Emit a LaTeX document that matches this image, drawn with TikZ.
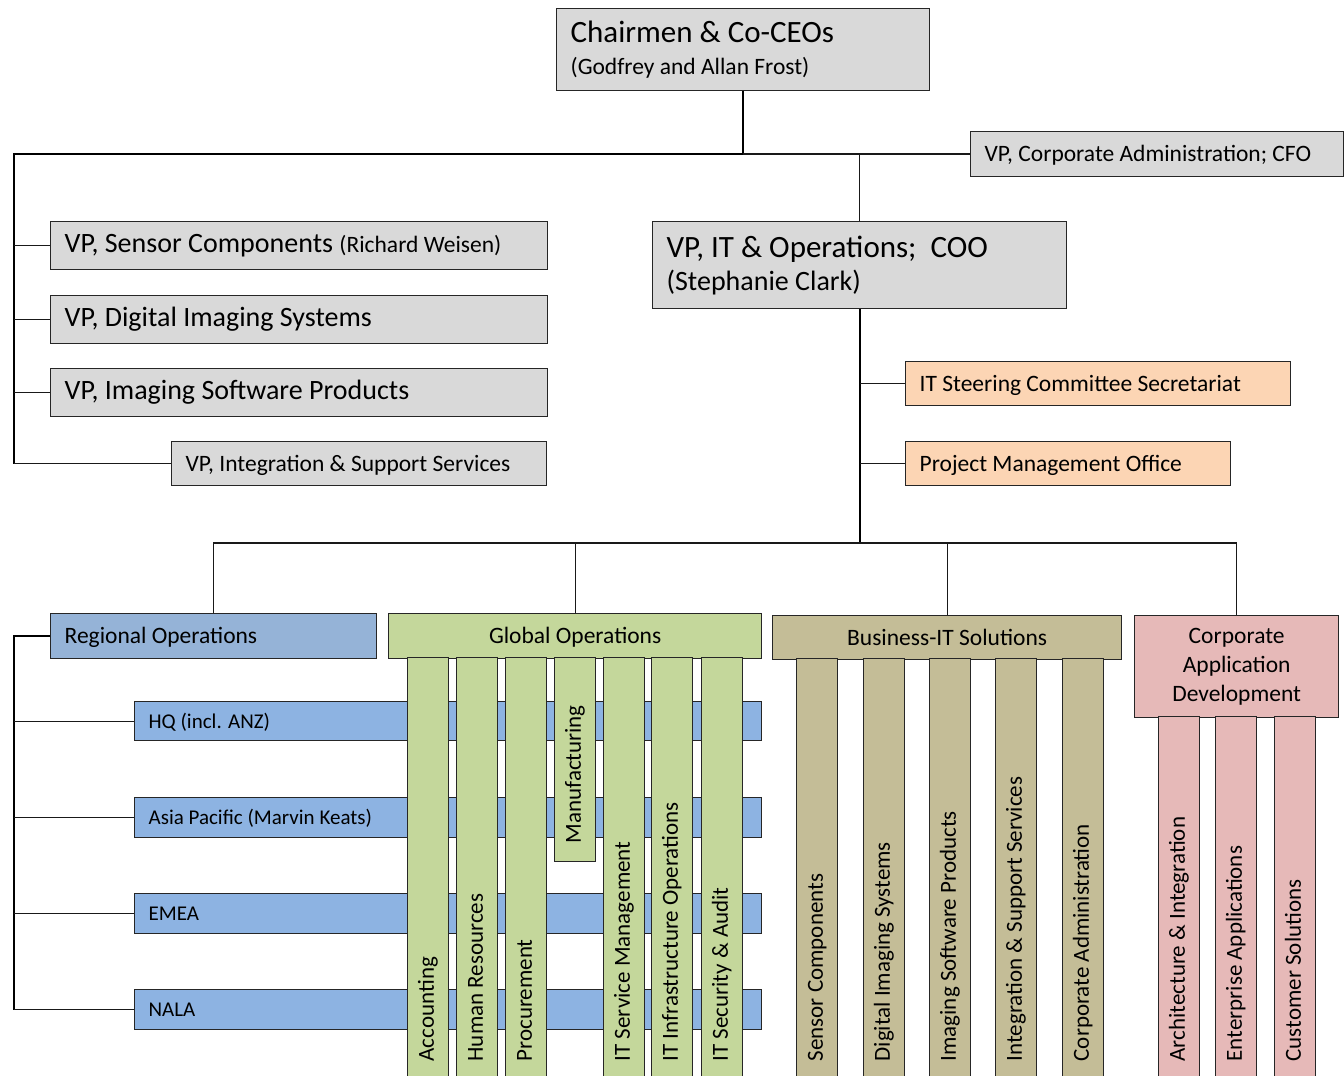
\documentclass[tikz,border=0pt]{standalone}
\usepackage{fontspec}
\setmainfont{Carlito}
\usetikzlibrary{calc}
\newcommand{\fbig}{\fontsize{31}{33}\selectfont}
\newcommand{\fvp}{\fontsize{28}{32}\selectfont}
\newcommand{\fsub}{\fontsize{23.5}{32}\selectfont}
\newcommand{\fmid}{\fontsize{23.5}{29}\selectfont}
\newcommand{\fcol}{\fontsize{23}{29}\selectfont}
\newcommand{\frow}{\fontsize{21}{26}\selectfont}
\newcommand{\ostrut}{\rule[-0.16em]{0pt}{0.98em}}
\definecolor{boxgray}{HTML}{D9D9D9}
\definecolor{peach}{HTML}{FCD5B4}
\definecolor{reghead}{HTML}{95B3D7}
\definecolor{regrow}{HTML}{8DB3E2}
\definecolor{olive}{HTML}{C4D79B}
\definecolor{tan}{HTML}{C4BD97}
\definecolor{rose}{HTML}{E6B9B8}
\tikzset{
    orgbox/.append style={rectangle,draw=black!85,line width=1.3pt,anchor=north west,inner xsep=14pt,inner ysep=0pt,align=flush left},
    graybox/.append style={orgbox,fill=boxgray},
    peachbox/.append style={orgbox,fill=peach,font=\fmid\ostrut},
    headbox/.append style={orgbox,align=flush center},
    rowbox/.append style={orgbox,fill=regrow,font=\frow\ostrut},
    column/.append style={orgbox,rotate=90,inner xsep=18pt,minimum height=41pt,font=\fcol\strut},
    trunk/.append style={line width=2pt,draw=black},
    twig/.append style={line width=1.2pt,draw=black!90},
}

\begin{document}
\begin{tikzpicture}[x=1pt,y=-1pt]
    \useasboundingbox (0,0) rectangle (1344,1076);

    % top of the chart
    \node[graybox,text width=345pt,minimum height=82pt,font=\fsub] (chair) at (556,8)
        {{\fbig Chairmen \& Co-CEOs}\\(Godfrey and Allan Frost)};
    \node[graybox,text width=345pt,minimum height=45pt,font=\fmid\ostrut] (cfo) at (970,131)
        {VP, Corporate Administration; CFO};

    \node[graybox,text width=469pt,minimum height=48pt,font=\fvp\strut] (vpsc) at (50,221)
        {VP, Sensor Components {\fsub (Richard Weisen)}};
    \node[graybox,text width=469pt,minimum height=48pt,font=\fvp\strut] (vpdis) at (50,295)
        {VP, Digital Imaging Systems};
    \node[graybox,text width=469pt,minimum height=48pt,font=\fvp\strut] (vpisp) at (50,368)
        {VP, Imaging Software Products};
    \node[graybox,text width=347pt,minimum height=44pt,font=\fmid\ostrut] (vpiss) at (171,441)
        {VP, Integration \& Support Services};

    \node[graybox,text width=386pt,minimum height=87pt,font=\fontsize{28}{33}\selectfont] (coo) at (652,221)
        {{\fbig VP, IT \& Operations;\ \ COO}\\(Stephanie Clark)};
    \node[peachbox,text width=357pt,minimum height=44pt] (its) at (905,361)
        {IT Steering Committee Secretariat};
    \node[peachbox,text width=297pt,minimum height=44pt] (pmo) at (905,441)
        {Project Management Office};

    \coordinate (jtop) at (chair.south |- 0,154);
    \coordinate (jleft) at (14,154);
    \coordinate (jend) at (vpiss.west -| jleft);
    \draw[trunk] (chair.south) -- (jtop) -- (jleft) -- (jend);
    \draw[twig] (jend) -- (vpiss.west);
    \draw[twig] (jleft |- vpsc.west) -- (vpsc.west);
    \draw[twig] (jleft |- vpdis.west) -- (vpdis.west);
    \draw[twig] (jleft |- vpisp.west) -- (vpisp.west);
    \draw[twig] (jtop) -- (cfo.west |- jtop);
    \draw[twig] (coo.north |- jtop) -- (coo.north);

    % IT and operations
    \node[orgbox,fill=reghead,text width=298pt,minimum height=45pt,font=\fmid\ostrut] (reg) at (50,613)
        {Regional Operations};
    \node[headbox,fill=olive,text width=345pt,minimum height=45pt,font=\fmid\ostrut] (glob) at (388,613)
        {Global Operations};
    \node[headbox,fill=tan,text width=321pt,minimum height=44pt,font=\fmid\ostrut] (bits) at (772,615)
        {Business-IT Solutions};
    \node[headbox,fill=rose,text width=176pt,minimum height=102pt,font=\fmid] (cad) at (1134,615)
        {Corporate\\Application\\Development};

    \coordinate (jbot) at (coo.south |- 0,543);
    \draw[trunk] (coo.south) -- (jbot);
    \draw[twig] (coo.south |- its.west) -- (its.west);
    \draw[twig] (coo.south |- pmo.west) -- (pmo.west);
    \draw[twig] (reg.north) |- (cad.north |- jbot) -- (cad.north);
    \draw[twig] (glob.north) -- (glob.north |- jbot);
    \draw[twig] (bits.north) -- (bits.north |- jbot);

    % regions
    \node[rowbox,text width=599pt,minimum height=39pt] (hq) at (134,701) {HQ (incl. ANZ)};
    \node[rowbox,text width=599pt,minimum height=40pt] (ap) at (134,797) {Asia Pacific (Marvin Keats)};
    \node[rowbox,text width=599pt,minimum height=40pt] (emea) at (134,893) {EMEA};
    \node[rowbox,text width=599pt,minimum height=40pt] (nala) at (134,989) {NALA};

    \coordinate (jreg) at (reg.west -| 14,0);
    \draw[trunk] (reg.west) -- (jreg) -- (jreg |- nala.west);
    \draw[twig] (jreg |- hq.west) -- (hq.west);
    \draw[twig] (jreg |- ap.west) -- (ap.west);
    \draw[twig] (jreg |- emea.west) -- (emea.west);
    \draw[twig] (jreg |- nala.west) -- (nala.west);

    % global operations
    \node[column,fill=olive,text width=386pt] (acc) at (407,1080) {Accounting};
    \node[column,fill=olive,text width=386pt] (hr) at (456,1080) {Human Resources};
    \node[column,fill=olive,text width=386pt] (proc) at (505,1080) {Procurement};
    \node[column,fill=olive,text width=168pt] (manu) at (554,862) {Manufacturing};
    \node[column,fill=olive,text width=386pt] (itsm) at (603,1080) {IT Service Management};
    \node[column,fill=olive,text width=386pt] (itio) at (651,1080) {IT Infrastructure Operations};
    \node[column,fill=olive,text width=386pt] (itsa) at (701,1080) {IT Security \& Audit};

    % business-it solutions
    \node[column,fill=tan,text width=385pt] (sc) at (796,1080) {Sensor Components};
    \node[column,fill=tan,text width=385pt] (dis) at (863,1080) {Digital Imaging Systems};
    \node[column,fill=tan,text width=385pt] (isp) at (929,1080) {Imaging Software Products};
    \node[column,fill=tan,text width=385pt] (iss) at (995,1080) {Integration \& Support Services};
    \node[column,fill=tan,text width=385pt] (ca) at (1062,1080) {Corporate Administration};

    % corporate application development
    \node[column,fill=rose,text width=327pt] (ai) at (1158,1080) {Architecture \& Integration};
    \node[column,fill=rose,text width=327pt] (ea) at (1215,1080) {Enterprise Applications};
    \node[column,fill=rose,text width=327pt] (cs) at (1274,1080) {Customer Solutions};
\end{tikzpicture}
\end{document}
